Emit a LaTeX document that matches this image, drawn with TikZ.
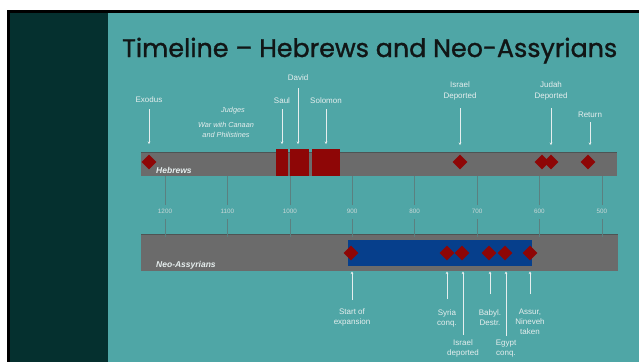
\documentclass[tikz,border=0pt]{standalone}
\usepackage{fontspec}
\usepackage{graphicx}
\setmainfont{Liberation Sans}
\newfontfamily\titlefont[FakeBold=1.2]{Poppins}
\usetikzlibrary{shapes.geometric,arrows.meta}
\definecolor{bgteal}{HTML}{4FA6A6}
\definecolor{darkpanel}{HTML}{05302F}
\definecolor{titlec}{HTML}{111616}
\definecolor{bargray}{HTML}{6B6B6B}
\definecolor{barline}{HTML}{4E5454}
\definecolor{redc}{HTML}{8E0606}
\definecolor{bluec}{HTML}{063F8C}
\definecolor{labc}{HTML}{E6EEEE}
\definecolor{yearc}{HTML}{C9D8D8}
\definecolor{tickc}{HTML}{5B8080}
\begin{document}
\begin{tikzpicture}[x=1pt,y=-1pt,
  bar/.style={fill=bargray, draw=none, inner sep=0, anchor=north west},
  redblock/.style={fill=redc, draw=none, inner sep=0, anchor=north west},
  bluebox/.style={fill=bluec, draw=none, inner sep=0, anchor=north west},
  gem/.style={diamond, fill=redc, draw=none, inner sep=0, minimum width=15pt, minimum height=15pt},
  lab/.style={text=labc, inner sep=0, anchor=north, align=center, font=\fontsize{8}{10.5}\selectfont},
  blab/.style={text=labc, inner sep=0, anchor=north, align=center, font=\fontsize{8}{10}\selectfont},
  ilab/.style={text=labc, inner sep=0, anchor=north, align=center, font=\itshape\fontsize{7.3}{10}\selectfont},
  rowlab/.style={text=labc, inner sep=0, anchor=base west, font=\bfseries\itshape\fontsize{8.5}{10}\selectfont},
  yearlab/.style={text=yearc, inner sep=0, font=\fontsize{6.3}{7}\selectfont},
  arr/.style={draw=labc, line width=0.9pt, -{Stealth[length=2.6pt,width=2.8pt]}},
  tick/.style={draw=tickc, line width=0.6pt}]
\useasboundingbox (0,0) rectangle (639,362);
% background
\fill[white] (0,0) rectangle (639,362);
\fill[black] (7,10) rectangle (639,362);
\fill[darkpanel] (10,13) rectangle (108,362);
\fill[bgteal] (108,13) rectangle (639,362);
% title
\node[anchor=base west, inner sep=0, text=titlec] (title) at (122,57)
  {\resizebox{495pt}{!}{\titlefont Timeline – Hebrews and Neo-Assyrians}};
% bars
\node[bar, minimum width=476pt, minimum height=24pt] (hbar) at (141,152) {};
\draw[barline, line width=0.8pt] (hbar.north west) -- (hbar.north east);
\node[bar, minimum width=477pt, minimum height=37pt] (nbar) at (141,234) {};
\draw[barline, line width=0.8pt] (nbar.north west) -- (nbar.north east);
% year scale
\foreach \yr [count=\i from 0] in {1200,1100,1000,900,800,700,600,500}{
  \node[yearlab] (yl\yr) at ({165+62.4*\i},211.5) {\yr};
  \draw[tick] (yl\yr.center) ++(0,-6.5) -- (yl\yr.center |- hbar.south);
  \draw[tick] (yl\yr.center) ++(0,7.5) -- ([yshift=-3pt]yl\yr.center |- nbar.north);
}
% Hebrews row
\node[redblock, minimum width=12pt, minimum height=27pt] (saul) at (276,149) {};
\node[redblock, minimum width=19pt, minimum height=27pt] (david) at (290,149) {};
\node[redblock, minimum width=28pt, minimum height=27pt] (solomon) at (312,149) {};
\node[gem] (dExodus) at (149,162) {};
\node[gem] (dIsrael) at (460,162) {};
\node[gem] (dJudahA) at (542,162) {};
\node[gem] (dJudahB) at (551,162) {};
\node[gem] (dReturn) at (588,162) {};
\node[rowlab] (hlab) at (156,173) {Hebrews};
% Hebrews labels and arrows
\node[lab] (lExodus) at (149,96) {Exodus};
\node[lab] (lSaul) at (282,97.5) {Saul};
\node[lab] (lDavid) at (298,74) {David};
\node[lab] (lSolomon) at (326,97.5) {Solomon};
\node[ilab] (lJudges) at (233,107) {Judges};
\node[ilab] (lWar) at (226,122) {War with Canaan\\and Philistines};
\node[lab] (lIsrael) at (460,81.5) {Israel\\Deported};
\node[lab] (lJudah) at (551,81.5) {Judah\\Deported};
\node[lab] (lReturn) at (590,112) {Return};
\coordinate (aExT) at (149,109); \coordinate (aExB) at (149,144);
\coordinate (aSaT) at (282,109); \coordinate (aSaB) at (282,144);
\coordinate (aDaT) at (298,88);  \coordinate (aDaB) at (298,144);
\coordinate (aSoT) at (326,109); \coordinate (aSoB) at (326,144);
\coordinate (aIsT) at (460,108); \coordinate (aIsB) at (460,145);
\coordinate (aJuT) at (551,108); \coordinate (aJuB) at (551,145);
\coordinate (aReT) at (590,122); \coordinate (aReB) at (590,145);
\draw[arr] (aExT) -- (aExB);
\draw[arr] (aSaT) -- (aSaB);
\draw[arr] (aDaT) -- (aDaB);
\draw[arr] (aSoT) -- (aSoB);
\draw[arr] (aIsT) -- (aIsB);
\draw[arr] (aJuT) -- (aJuB);
\draw[arr] (aReT) -- (aReB);
% Neo-Assyrian row
\node[bluebox, minimum width=184pt, minimum height=26pt] (empire) at (348,240) {};
\node[gem] (nStart) at (351,253) {};
\node[gem] (nSyria) at (447,253) {};
\node[gem] (nIsrael) at (462,253) {};
\node[gem] (nBabyl) at (489,253) {};
\node[gem] (nEgypt) at (505,253) {};
\node[gem] (nAssur) at (530,253) {};
\node[rowlab] (nlab) at (156,267) {Neo-Assyrians};
% Neo-Assyrian labels and arrows
\node[blab] (bStart) at (352,309) {Start of\\expansion};
\node[blab] (bSyria) at (447,309) {Syria\\conq.};
\node[blab] (bIsrael) at (463,339.5) {Israel\\deported};
\node[blab] (bBabyl) at (490,309) {Babyl.\\Destr.};
\node[blab] (bEgypt) at (506,339.5) {Egypt\\conq.};
\node[blab] (bAssur) at (530,309) {Assur,\\Nineveh\\taken};
\coordinate (uStB) at (352,300); \coordinate (uStT) at (352,271.5);
\coordinate (uSyB) at (447,299); \coordinate (uSyT) at (447,271.5);
\coordinate (uIsB) at (463,335); \coordinate (uIsT) at (463,271.5);
\coordinate (uBaB) at (490,294); \coordinate (uBaT) at (490,271.5);
\coordinate (uEgB) at (506,336); \coordinate (uEgT) at (506,271.5);
\coordinate (uAsB) at (530,294); \coordinate (uAsT) at (530,271.5);
\draw[arr] (uStB) -- (uStT);
\draw[arr] (uSyB) -- (uSyT);
\draw[arr] (uIsB) -- (uIsT);
\draw[arr] (uBaB) -- (uBaT);
\draw[arr] (uEgB) -- (uEgT);
\draw[arr] (uAsB) -- (uAsT);
\end{tikzpicture}
\end{document}
